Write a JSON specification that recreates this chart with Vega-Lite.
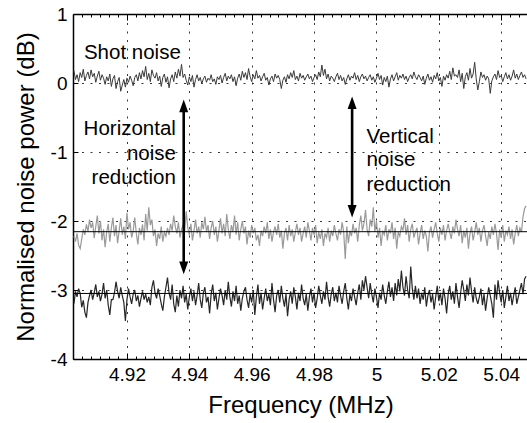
{
"$schema": "https://vega.github.io/schema/vega-lite/v6.json",
"width": 455, "height": 345,
"autosize": {"type": "none"},
"padding": {"left": 73, "top": 14, "right": 0, "bottom": 64},
"background": "white",
"config": {"font": "Liberation Sans", "view": {"stroke": null},
  "axis": {"domainColor": "black", "domainWidth": 1.5, "tickColor": "black", "tickWidth": 1, "labelColor": "black", "titleColor": "black", "labelFont": "Liberation Sans", "titleFont": "Liberation Sans", "titleFontWeight": "normal", "labelFontSize": 19, "titleFontSize": 24, "gridColor": "#222", "gridDash": [2, 6.5], "gridWidth": 1, "labelFlush": false, "labelOverlap": false, "labelBound": false}},
"datasets": {
"trace": [
{"f":4.903,"s":0.18,"g":-2.22,"b":-3.20},{"f":4.9035,"s":0.05,"g":-2.30,"b":-3.02},{"f":4.904,"s":0.12,"g":-2.18,"b":-3.10},{"f":4.9045,"s":0.02,"g":-2.35,"b":-2.98},{"f":4.905,"s":0.15,"g":-2.40,"b":-3.05},{"f":4.9055,"s":0.08,"g":-2.26,"b":-3.25},{"f":4.906,"s":0.20,"g":-2.12,"b":-3.15},{"f":4.9065,"s":0.03,"g":-2.20,"b":-3.32},{"f":4.907,"s":0.11,"g":-2.05,"b":-3.40},{"f":4.9075,"s":0.16,"g":-2.15,"b":-3.18},
{"f":4.908,"s":0.06,"g":-1.98,"b":-3.08},{"f":4.9085,"s":0.19,"g":-2.10,"b":-3.00},{"f":4.909,"s":0.09,"g":-2.02,"b":-3.14},{"f":4.9095,"s":0.14,"g":-2.25,"b":-3.04},{"f":4.910,"s":0.01,"g":-2.08,"b":-2.92},{"f":4.9105,"s":0.10,"g":-1.92,"b":-3.10},{"f":4.911,"s":0.17,"g":-2.18,"b":-3.02},{"f":4.9115,"s":0.04,"g":-2.00,"b":-3.16},{"f":4.912,"s":0.12,"g":-2.28,"b":-3.06},{"f":4.9125,"s":0.07,"g":-2.12,"b":-2.90},
{"f":4.913,"s":-0.02,"g":-2.38,"b":-3.12},{"f":4.9135,"s":0.09,"g":-2.16,"b":-3.00},{"f":4.914,"s":0.03,"g":-2.04,"b":-3.22},{"f":4.9145,"s":0.13,"g":-2.30,"b":-3.36},{"f":4.915,"s":-0.05,"g":-2.10,"b":-3.14},{"f":4.9155,"s":0.06,"g":-1.95,"b":-3.14},{"f":4.916,"s":0.11,"g":-2.22,"b":-3.04},{"f":4.9165,"s":-0.08,"g":-2.06,"b":-2.88},{"f":4.917,"s":0.02,"g":-2.32,"b":-3.02},{"f":4.9175,"s":0.08,"g":-2.14,"b":-3.12},
{"f":4.918,"s":-0.12,"g":-1.96,"b":-2.96},{"f":4.9185,"s":-0.03,"g":-2.20,"b":-3.08},{"f":4.919,"s":0.05,"g":-2.08,"b":-3.18},{"f":4.9195,"s":-0.06,"g":-2.26,"b":-3.45},{"f":4.920,"s":0.07,"g":-1.88,"b":-3.14},{"f":4.9205,"s":0.01,"g":-2.12,"b":-2.98},{"f":4.921,"s":0.10,"g":-2.02,"b":-3.10},{"f":4.9215,"s":0.04,"g":-2.24,"b":-3.20},{"f":4.922,"s":-0.04,"g":-2.15,"b":-3.06},{"f":4.9225,"s":0.08,"g":-1.95,"b":-3.00},
{"f":4.923,"s":0.12,"g":-2.18,"b":-3.16},{"f":4.9235,"s":0.03,"g":-2.34,"b":-3.08},{"f":4.924,"s":0.15,"g":-2.10,"b":-3.24},{"f":4.9245,"s":0.06,"g":-2.20,"b":-3.12},{"f":4.925,"s":0.18,"g":-2.05,"b":-3.02},{"f":4.9255,"s":0.09,"g":-2.28,"b":-3.14},{"f":4.926,"s":0.24,"g":-1.90,"b":-3.06},{"f":4.9265,"s":0.05,"g":-2.14,"b":-3.18},{"f":4.927,"s":0.14,"g":-1.80,"b":-3.10},{"f":4.9275,"s":0.02,"g":-2.06,"b":-3.22},
{"f":4.928,"s":0.19,"g":-1.98,"b":-2.96},{"f":4.9285,"s":0.11,"g":-2.22,"b":-2.86},{"f":4.929,"s":0.07,"g":-2.12,"b":-3.04},{"f":4.9295,"s":0.15,"g":-2.36,"b":-3.12},{"f":4.930,"s":0.03,"g":-2.18,"b":-2.98},{"f":4.9305,"s":0.10,"g":-2.26,"b":-3.08},{"f":4.931,"s":-0.05,"g":-2.08,"b":-3.20},{"f":4.9315,"s":0.08,"g":-2.30,"b":-3.30},{"f":4.932,"s":0.13,"g":-2.16,"b":-3.10},{"f":4.9325,"s":0.01,"g":-2.22,"b":-2.96},
{"f":4.933,"s":0.09,"g":-2.10,"b":-2.82},{"f":4.9335,"s":-0.07,"g":-2.20,"b":-3.04},{"f":4.934,"s":0.06,"g":-2.04,"b":-3.14},{"f":4.9345,"s":0.12,"g":-2.14,"b":-2.92},{"f":4.935,"s":0.02,"g":-1.92,"b":-3.20},{"f":4.9355,"s":0.16,"g":-2.08,"b":-3.32},{"f":4.936,"s":0.07,"g":-2.18,"b":-3.08},{"f":4.9365,"s":0.20,"g":-2.02,"b":-3.24},{"f":4.937,"s":0.10,"g":-2.24,"b":-3.00},{"f":4.9375,"s":0.27,"g":-2.12,"b":-3.12},
{"f":4.938,"s":0.08,"g":-2.06,"b":-2.94},{"f":4.9385,"s":0.13,"g":-2.16,"b":-3.18},{"f":4.939,"s":0.04,"g":-1.86,"b":-3.06},{"f":4.9395,"s":-0.03,"g":-2.10,"b":-3.28},{"f":4.940,"s":0.09,"g":-2.20,"b":-3.10},{"f":4.9405,"s":0.02,"g":-2.04,"b":-2.98},{"f":4.941,"s":0.11,"g":-2.28,"b":-3.16},{"f":4.9415,"s":-0.06,"g":-2.14,"b":-3.02},{"f":4.942,"s":0.05,"g":-1.98,"b":-3.22},{"f":4.9425,"s":0.12,"g":-2.18,"b":-3.08},
{"f":4.943,"s":0.03,"g":-2.08,"b":-2.90},{"f":4.9435,"s":0.08,"g":-2.24,"b":-3.14},{"f":4.944,"s":-0.01,"g":-2.02,"b":-3.26},{"f":4.9445,"s":0.06,"g":-2.12,"b":-3.04},{"f":4.945,"s":0.10,"g":-1.94,"b":-2.96},{"f":4.9455,"s":0.01,"g":-2.16,"b":-3.18},{"f":4.946,"s":0.07,"g":-2.06,"b":-3.10},{"f":4.9465,"s":0.04,"g":-2.26,"b":-3.34},{"f":4.947,"s":0.12,"g":-2.10,"b":-3.06},{"f":4.9475,"s":0.02,"g":-2.00,"b":-2.92},
{"f":4.948,"s":0.06,"g":-2.20,"b":-3.16},{"f":4.9485,"s":-0.02,"g":-2.08,"b":-3.04},{"f":4.949,"s":0.09,"g":-2.30,"b":-3.28},{"f":4.9495,"s":0.05,"g":-2.14,"b":-3.12},{"f":4.950,"s":0.11,"g":-1.96,"b":-2.98},{"f":4.9505,"s":0.00,"g":-2.18,"b":-3.08},{"f":4.951,"s":0.08,"g":-2.04,"b":-3.22},{"f":4.9515,"s":0.14,"g":-2.22,"b":-3.00},{"f":4.952,"s":0.03,"g":-1.90,"b":-3.14},{"f":4.9525,"s":0.10,"g":-2.12,"b":-2.88},
{"f":4.953,"s":0.06,"g":-2.26,"b":-3.10},{"f":4.9535,"s":0.12,"g":-2.06,"b":-3.24},{"f":4.954,"s":0.02,"g":-2.16,"b":-3.02},{"f":4.9545,"s":0.09,"g":-1.92,"b":-3.16},{"f":4.955,"s":-0.04,"g":-2.20,"b":-2.94},{"f":4.9555,"s":0.07,"g":-2.02,"b":-3.20},{"f":4.956,"s":0.13,"g":-2.28,"b":-3.08},{"f":4.9565,"s":0.04,"g":-2.12,"b":-3.30},{"f":4.957,"s":0.17,"g":-2.00,"b":-3.12},{"f":4.9575,"s":0.08,"g":-2.18,"b":-3.02},
{"f":4.958,"s":0.15,"g":-2.08,"b":-2.96},{"f":4.9585,"s":0.05,"g":-2.34,"b":-3.14},{"f":4.959,"s":0.21,"g":-2.14,"b":-3.26},{"f":4.9595,"s":0.09,"g":-2.24,"b":-3.06},{"f":4.960,"s":0.02,"g":-2.06,"b":-3.18},{"f":4.9605,"s":0.12,"g":-2.18,"b":-3.00},{"f":4.961,"s":0.06,"g":-2.10,"b":-3.36},{"f":4.9615,"s":0.18,"g":-2.28,"b":-3.10},{"f":4.962,"s":0.07,"g":-2.20,"b":-2.92},{"f":4.9625,"s":0.11,"g":-2.36,"b":-3.20},
{"f":4.963,"s":0.03,"g":-2.14,"b":-3.04},{"f":4.9635,"s":0.09,"g":-2.22,"b":-3.28},{"f":4.964,"s":0.14,"g":-2.08,"b":-3.12},{"f":4.9645,"s":0.04,"g":-2.18,"b":-2.98},{"f":4.965,"s":0.08,"g":-2.02,"b":-3.16},{"f":4.9655,"s":-0.03,"g":-2.26,"b":-3.06},{"f":4.966,"s":0.06,"g":-2.12,"b":-3.22},{"f":4.9665,"s":0.10,"g":-2.30,"b":-2.90},{"f":4.967,"s":0.02,"g":-2.16,"b":-3.14},{"f":4.9675,"s":0.13,"g":-2.08,"b":-3.32},
{"f":4.968,"s":0.07,"g":-2.20,"b":-3.08},{"f":4.9685,"s":0.11,"g":-2.04,"b":-3.00},{"f":4.969,"s":0.05,"g":-2.24,"b":-3.18},{"f":4.9695,"s":-0.08,"g":-2.14,"b":-2.94},{"f":4.970,"s":0.04,"g":-2.40,"b":-3.12},{"f":4.9705,"s":0.09,"g":-2.18,"b":-3.24},{"f":4.971,"s":0.01,"g":-2.10,"b":-3.06},{"f":4.9715,"s":0.12,"g":-2.28,"b":-3.38},{"f":4.972,"s":0.06,"g":-2.06,"b":-3.14},{"f":4.9725,"s":0.15,"g":-2.22,"b":-3.02},
{"f":4.973,"s":0.08,"g":-2.12,"b":-3.20},{"f":4.9735,"s":0.18,"g":-2.30,"b":-2.96},{"f":4.974,"s":0.05,"g":-2.16,"b":-3.10},{"f":4.9745,"s":0.10,"g":-2.04,"b":-3.28},{"f":4.975,"s":0.03,"g":-2.20,"b":-3.04},{"f":4.9755,"s":0.14,"g":-2.10,"b":-3.16},{"f":4.976,"s":0.07,"g":-2.30,"b":-2.92},{"f":4.9765,"s":0.11,"g":-2.18,"b":-3.12},{"f":4.977,"s":0.04,"g":-2.08,"b":-3.22},{"f":4.9775,"s":0.09,"g":-2.24,"b":-3.06},
{"f":4.978,"s":0.13,"g":-2.02,"b":-3.30},{"f":4.9785,"s":0.06,"g":-2.14,"b":-3.10},{"f":4.979,"s":0.10,"g":-2.28,"b":-2.98},{"f":4.9795,"s":0.02,"g":-2.10,"b":-3.18},{"f":4.980,"s":0.08,"g":-2.20,"b":-3.04},{"f":4.9805,"s":0.12,"g":-2.06,"b":-3.26},{"f":4.981,"s":0.05,"g":-2.32,"b":-3.12},{"f":4.9815,"s":0.16,"g":-2.16,"b":-2.94},{"f":4.982,"s":0.09,"g":-2.26,"b":-3.08},{"f":4.9825,"s":0.26,"g":-2.12,"b":-3.20},
{"f":4.983,"s":0.11,"g":-2.36,"b":-3.02},{"f":4.9835,"s":0.20,"g":-2.18,"b":-3.14},{"f":4.984,"s":0.06,"g":-2.24,"b":-2.88},{"f":4.9845,"s":0.13,"g":-2.10,"b":-3.10},{"f":4.985,"s":0.03,"g":-2.30,"b":-3.24},{"f":4.9855,"s":0.10,"g":-2.14,"b":-3.06},{"f":4.986,"s":0.07,"g":-2.22,"b":-2.96},{"f":4.9865,"s":0.02,"g":-2.06,"b":-3.16},{"f":4.987,"s":0.09,"g":-2.18,"b":-3.04},{"f":4.9875,"s":0.14,"g":-2.28,"b":-3.18},
{"f":4.988,"s":0.05,"g":-2.12,"b":-2.94},{"f":4.9885,"s":0.11,"g":-2.20,"b":-3.08},{"f":4.989,"s":0.03,"g":-2.02,"b":-3.20},{"f":4.9895,"s":0.08,"g":-2.16,"b":-3.02},{"f":4.990,"s":-0.02,"g":-2.55,"b":-2.90},{"f":4.9905,"s":0.06,"g":-2.08,"b":-3.12},{"f":4.991,"s":0.12,"g":-2.32,"b":-3.28},{"f":4.9915,"s":0.04,"g":-2.14,"b":-3.06},{"f":4.992,"s":0.10,"g":-2.22,"b":-3.16},{"f":4.9925,"s":0.07,"g":-2.04,"b":-2.98},
{"f":4.993,"s":0.15,"g":-2.18,"b":-3.10},{"f":4.9935,"s":0.05,"g":-2.10,"b":-3.22},{"f":4.994,"s":0.11,"g":-2.30,"b":-3.04},{"f":4.9945,"s":0.02,"g":-2.06,"b":-2.92},{"f":4.995,"s":0.09,"g":-1.92,"b":-3.14},{"f":4.9955,"s":0.13,"g":-2.14,"b":-2.86},{"f":4.996,"s":0.06,"g":-2.04,"b":-3.00},{"f":4.9965,"s":0.10,"g":-1.84,"b":-2.80},{"f":4.997,"s":0.03,"g":-2.12,"b":-2.96},{"f":4.9975,"s":0.08,"g":-2.22,"b":-3.12},
{"f":4.998,"s":0.12,"g":-1.98,"b":-2.90},{"f":4.9985,"s":0.04,"g":-2.08,"b":-3.06},{"f":4.999,"s":0.09,"g":-1.80,"b":-3.18},{"f":4.9995,"s":0.01,"g":-2.16,"b":-2.98},{"f":5.000,"s":0.07,"g":-2.00,"b":-3.10},{"f":5.0005,"s":0.14,"g":-2.24,"b":-3.26},{"f":5.001,"s":0.05,"g":-2.10,"b":-3.04},{"f":5.0015,"s":0.11,"g":-2.36,"b":-3.14},{"f":5.002,"s":-0.03,"g":-2.14,"b":-2.92},{"f":5.0025,"s":0.08,"g":-2.20,"b":-3.08},
{"f":5.003,"s":0.02,"g":-2.06,"b":-3.20},{"f":5.0035,"s":0.10,"g":-2.28,"b":-3.02},{"f":5.004,"s":-0.06,"g":-2.12,"b":-2.88},{"f":5.0045,"s":0.06,"g":-2.18,"b":-3.10},{"f":5.005,"s":0.12,"g":-2.02,"b":-2.96},{"f":5.0055,"s":0.03,"g":-2.26,"b":-3.16},{"f":5.006,"s":0.09,"g":-2.10,"b":-2.90},{"f":5.0065,"s":0.15,"g":-2.40,"b":-3.08},{"f":5.007,"s":0.04,"g":-2.16,"b":-2.84},{"f":5.0075,"s":0.11,"g":-2.22,"b":-3.02},
{"f":5.008,"s":0.07,"g":-2.08,"b":-2.72},{"f":5.0085,"s":0.13,"g":-2.14,"b":-2.96},{"f":5.009,"s":0.05,"g":-1.96,"b":-3.08},{"f":5.0095,"s":0.10,"g":-2.20,"b":-2.80},{"f":5.010,"s":0.02,"g":-2.06,"b":-3.00},{"f":5.0105,"s":0.08,"g":-2.30,"b":-3.12},{"f":5.011,"s":0.12,"g":-2.12,"b":-2.66},{"f":5.0115,"s":0.06,"g":-2.04,"b":-2.98},{"f":5.012,"s":0.16,"g":-2.24,"b":-3.14},{"f":5.0125,"s":0.09,"g":-2.16,"b":-2.94},
{"f":5.013,"s":0.05,"g":-2.10,"b":-3.12},{"f":5.0135,"s":0.12,"g":-2.34,"b":-2.98},{"f":5.014,"s":0.08,"g":-2.18,"b":-3.20},{"f":5.0145,"s":0.03,"g":-2.06,"b":-3.04},{"f":5.015,"s":0.10,"g":-2.26,"b":-3.14},{"f":5.0155,"s":-0.02,"g":-2.14,"b":-2.96},{"f":5.016,"s":0.07,"g":-2.22,"b":-3.24},{"f":5.0165,"s":0.13,"g":-2.44,"b":-3.08},{"f":5.017,"s":0.04,"g":-2.16,"b":-3.00},{"f":5.0175,"s":0.09,"g":-2.08,"b":-3.18},
{"f":5.018,"s":0.01,"g":-2.24,"b":-3.06},{"f":5.0185,"s":0.11,"g":-2.12,"b":-3.28},{"f":5.019,"s":0.06,"g":-2.02,"b":-3.10},{"f":5.0195,"s":0.15,"g":-2.18,"b":-2.94},{"f":5.020,"s":0.03,"g":-2.30,"b":-3.16},{"f":5.0205,"s":0.08,"g":-2.10,"b":-3.04},{"f":5.021,"s":-0.05,"g":-2.20,"b":-3.22},{"f":5.0215,"s":0.10,"g":-2.06,"b":-2.98},{"f":5.022,"s":0.04,"g":-2.28,"b":-3.12},{"f":5.0225,"s":0.12,"g":-2.14,"b":-3.34},
{"f":5.023,"s":0.07,"g":-2.04,"b":-3.06},{"f":5.0235,"s":0.17,"g":-2.16,"b":-2.94},{"f":5.024,"s":0.05,"g":-2.26,"b":-3.14},{"f":5.0245,"s":0.22,"g":-2.08,"b":-3.02},{"f":5.025,"s":0.10,"g":-2.18,"b":-3.20},{"f":5.0255,"s":0.12,"g":-1.98,"b":-2.90},{"f":5.026,"s":0.08,"g":-2.12,"b":-3.10},{"f":5.0265,"s":0.19,"g":-2.22,"b":-3.26},{"f":5.027,"s":0.02,"g":-2.06,"b":-3.04},{"f":5.0275,"s":0.14,"g":-2.32,"b":-2.86},
{"f":5.028,"s":-0.08,"g":-2.14,"b":-3.00},{"f":5.0285,"s":0.09,"g":-2.24,"b":-3.16},{"f":5.029,"s":0.15,"g":-2.10,"b":-2.92},{"f":5.0295,"s":0.04,"g":-2.40,"b":-3.08},{"f":5.030,"s":0.21,"g":-2.18,"b":-2.82},{"f":5.0305,"s":0.07,"g":-2.08,"b":-3.02},{"f":5.031,"s":0.13,"g":-2.28,"b":-3.18},{"f":5.0315,"s":0.30,"g":-2.16,"b":-2.96},{"f":5.032,"s":0.06,"g":-2.02,"b":-3.12},{"f":5.0325,"s":-0.10,"g":-2.20,"b":-3.20},
{"f":5.033,"s":0.02,"g":-2.10,"b":-3.10},{"f":5.0335,"s":0.16,"g":-2.30,"b":-2.98},{"f":5.034,"s":0.08,"g":-2.14,"b":-3.22},{"f":5.0345,"s":0.12,"g":-2.06,"b":-3.06},{"f":5.035,"s":0.04,"g":-2.22,"b":-3.30},{"f":5.0355,"s":0.10,"g":-2.36,"b":-3.12},{"f":5.036,"s":0.06,"g":-2.16,"b":-2.96},{"f":5.0365,"s":-0.15,"g":-2.26,"b":-3.08},{"f":5.037,"s":0.03,"g":-2.08,"b":-3.20},{"f":5.0375,"s":0.09,"g":-2.20,"b":-3.40},
{"f":5.038,"s":0.13,"g":-2.04,"b":-2.92},{"f":5.0385,"s":0.05,"g":-2.18,"b":-3.14},{"f":5.039,"s":0.18,"g":-2.42,"b":-2.86},{"f":5.0395,"s":0.08,"g":-2.12,"b":-3.04},{"f":5.040,"s":0.11,"g":-2.24,"b":-3.18},{"f":5.0405,"s":0.02,"g":-2.06,"b":-3.00},{"f":5.041,"s":0.09,"g":-2.30,"b":-3.26},{"f":5.0415,"s":0.15,"g":-2.14,"b":-3.10},{"f":5.042,"s":0.06,"g":-2.20,"b":-2.94},{"f":5.0425,"s":0.12,"g":-2.08,"b":-3.16},
{"f":5.043,"s":0.04,"g":-2.26,"b":-3.04},{"f":5.0435,"s":0.10,"g":-2.12,"b":-3.22},{"f":5.044,"s":0.19,"g":-2.34,"b":-3.08},{"f":5.0445,"s":0.07,"g":-2.18,"b":-2.96},{"f":5.045,"s":0.13,"g":-2.06,"b":-3.20},{"f":5.0455,"s":0.05,"g":-2.22,"b":-3.10},{"f":5.046,"s":0.11,"g":-2.10,"b":-3.00},{"f":5.0465,"s":0.16,"g":-2.16,"b":-2.90},{"f":5.047,"s":0.08,"g":-1.94,"b":-3.06},{"f":5.0475,"s":0.12,"g":-1.82,"b":-2.84},
{"f":5.048,"s":0.06,"g":-1.78,"b":-2.80}
],
"levels": [{"y": -2.155}, {"y": -3.05}],
"arrows": [{"f": 4.9382, "top": -0.24, "bot": -2.77, "r1": -0.36, "r2": -2.65}, {"f": 4.9922, "top": -0.195, "bot": -1.95, "r1": -0.31, "r2": -1.83}],
"leftText": [{"f": 4.9062, "y": 0.44, "t": "Shot noise"}, {"f": 4.9968, "y": -0.78, "t": "Vertical"}, {"f": 4.9968, "y": -1.12, "t": "noise"}, {"f": 4.9968, "y": -1.48, "t": "reduction"}],
"rightText": [{"f": 4.9357, "y": -0.66, "t": "Horizontal"}, {"f": 4.9357, "y": -1.03, "t": "noise"}, {"f": 4.9357, "y": -1.38, "t": "reduction"}]
},
"resolve": {"axis": {"x": "independent", "y": "independent"}},
"layer": [
{"data": {"name": "trace"}, "mark": {"type": "line", "color": "#3a3a3a", "strokeWidth": 1, "clip": true},
 "encoding": {
  "x": {"field": "f", "type": "quantitative", "scale": {"domain": [4.9027, 5.0486], "nice": false, "zero": false},
   "axis": {"orient": "bottom", "title": "Frequency (MHz)", "grid": true,
    "values": [4.905714,4.908571,4.911429,4.914286,4.917143,4.92,4.922857,4.925714,4.928571,4.931429,4.934286,4.937143,4.94,4.942857,4.945714,4.948571,4.951429,4.954286,4.957143,4.96,4.962857,4.965714,4.968571,4.971429,4.974286,4.977143,4.98,4.982857,4.985714,4.988571,4.991429,4.994286,4.997143,5.0,5.002857,5.005714,5.008571,5.011429,5.014286,5.017143,5.02,5.022857,5.025714,5.028571,5.031429,5.034286,5.037143,5.04,5.042857,5.045714],
    "labelExpr": "abs(datum.value*50-round(datum.value*50))<0.01 ? format(datum.value,'.2~f') : ''",
    "tickSize": {"condition": {"test": "abs(datum.value*50-round(datum.value*50))<0.01", "value": -6}, "value": -3},
    "gridOpacity": {"condition": {"test": "abs(datum.value*50-round(datum.value*50))<0.01", "value": 0.9}, "value": 0},
    "labelPadding": 12, "titlePadding": 6}},
  "y": {"field": "s", "type": "quantitative", "scale": {"domain": [-4, 1], "nice": false, "zero": false},
   "axis": {"orient": "left", "values": [-4, -3, -2, -1, 0, 1], "labelExpr": "'' + datum.value", "tickSize": -5, "grid": true, "gridOpacity": 0.9,
    "title": "Normalised noise power (dB)", "labelPadding": 11, "titlePadding": 12}}}},
{"data": {"name": "trace"}, "mark": {"type": "line", "color": "#9a9a9a", "strokeWidth": 1.2, "clip": true},
 "encoding": {
  "x": {"field": "f", "type": "quantitative", "scale": {"domain": [4.9027, 5.0486], "nice": false, "zero": false},
   "axis": {"orient": "top", "title": null, "labels": false, "grid": false,
    "values": [4.905714,4.908571,4.911429,4.914286,4.917143,4.92,4.922857,4.925714,4.928571,4.931429,4.934286,4.937143,4.94,4.942857,4.945714,4.948571,4.951429,4.954286,4.957143,4.96,4.962857,4.965714,4.968571,4.971429,4.974286,4.977143,4.98,4.982857,4.985714,4.988571,4.991429,4.994286,4.997143,5.0,5.002857,5.005714,5.008571,5.011429,5.014286,5.017143,5.02,5.022857,5.025714,5.028571,5.031429,5.034286,5.037143,5.04,5.042857,5.045714],
    "tickSize": {"condition": {"test": "abs(datum.value*50-round(datum.value*50))<0.01", "value": -6}, "value": -3}}},
  "y": {"field": "g", "type": "quantitative", "scale": {"domain": [-4, 1], "nice": false, "zero": false}, "axis": null}}},
{"data": {"name": "trace"}, "mark": {"type": "line", "color": "#262626", "strokeWidth": 1.2, "clip": true},
 "encoding": {
  "x": {"field": "f", "type": "quantitative", "scale": {"domain": [4.9027, 5.0486], "nice": false, "zero": false}, "axis": null},
  "y": {"field": "b", "type": "quantitative", "scale": {"domain": [-4, 1], "nice": false, "zero": false}, "axis": null}}},
{"data": {"name": "levels"}, "mark": {"type": "rule", "color": "black", "strokeWidth": 1},
 "encoding": {"y": {"field": "y", "type": "quantitative", "scale": {"domain": [-4, 1], "nice": false, "zero": false}, "axis": null}}},
{"data": {"name": "arrows"}, "mark": {"type": "rule", "color": "black", "strokeWidth": 2.6},
 "encoding": {
  "x": {"field": "f", "type": "quantitative", "scale": {"domain": [4.9027, 5.0486], "nice": false, "zero": false}, "axis": null},
  "y": {"field": "r1", "type": "quantitative", "scale": {"domain": [-4, 1], "nice": false, "zero": false}, "axis": null},
  "y2": {"field": "r2"}}},
{"data": {"name": "arrows"}, "mark": {"type": "point", "filled": true, "color": "black", "opacity": 1, "size": 144, "strokeWidth": 0, "shape": "M0,0L-0.75,2.1L0.75,2.1Z"},
 "encoding": {
  "x": {"field": "f", "type": "quantitative", "scale": {"domain": [4.9027, 5.0486], "nice": false, "zero": false}, "axis": null},
  "y": {"field": "top", "type": "quantitative", "scale": {"domain": [-4, 1], "nice": false, "zero": false}, "axis": null}}},
{"data": {"name": "arrows"}, "mark": {"type": "point", "filled": true, "color": "black", "opacity": 1, "size": 144, "strokeWidth": 0, "shape": "M0,0L-0.75,-2.1L0.75,-2.1Z"},
 "encoding": {
  "x": {"field": "f", "type": "quantitative", "scale": {"domain": [4.9027, 5.0486], "nice": false, "zero": false}, "axis": null},
  "y": {"field": "bot", "type": "quantitative", "scale": {"domain": [-4, 1], "nice": false, "zero": false}, "axis": null}}},
{"data": {"name": "leftText"}, "mark": {"type": "text", "align": "left", "baseline": "middle", "fontSize": 20.5, "font": "Liberation Sans", "color": "black"},
 "encoding": {
  "x": {"field": "f", "type": "quantitative", "scale": {"domain": [4.9027, 5.0486], "nice": false, "zero": false}, "axis": null},
  "y": {"field": "y", "type": "quantitative", "scale": {"domain": [-4, 1], "nice": false, "zero": false}, "axis": null},
  "text": {"field": "t"}}},
{"data": {"name": "rightText"}, "mark": {"type": "text", "align": "right", "baseline": "middle", "fontSize": 20.5, "font": "Liberation Sans", "color": "black"},
 "encoding": {
  "x": {"field": "f", "type": "quantitative", "scale": {"domain": [4.9027, 5.0486], "nice": false, "zero": false}, "axis": null},
  "y": {"field": "y", "type": "quantitative", "scale": {"domain": [-4, 1], "nice": false, "zero": false}, "axis": null},
  "text": {"field": "t"}}}
]
}
